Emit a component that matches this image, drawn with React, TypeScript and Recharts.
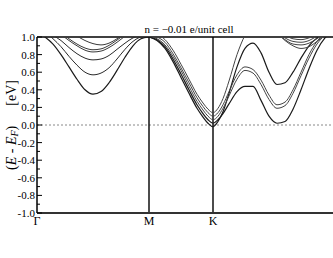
import { LineChart, Line, XAxis, YAxis, ReferenceLine } from "recharts";

// k-path positions (Γ=0, M=112, K=176, Γ=304; last Γ lies just past the frame)
const kGM = [0, 8, 16, 24, 32, 40, 48, 56, 64, 72, 80, 88, 96, 104, 112];
const kMK = [112, 120, 128, 136, 144, 152, 160, 166, 171, 176];
const kKG = [176, 181, 186, 192, 200, 208, 216, 224, 232, 240, 248, 256, 264, 272, 280, 288, 296, 304];

const kTicks = [0, 112, 176];
const kLabels = ["Γ", "M", "K"];
const eTicks = [-1, -0.9, -0.8, -0.7, -0.6, -0.5, -0.4, -0.3, -0.2, -0.1, 0, 0.1, 0.2, 0.3, 0.4, 0.5, 0.6, 0.7, 0.8, 0.9, 1];

// Γ - M
const gmA = [1.06, 1.0, 0.92, 0.8, 0.66, 0.52, 0.4, 0.35, 0.38, 0.48, 0.62, 0.77, 0.9, 0.98, 1.0];
const gmB = [1.12, 1.06, 0.98, 0.89, 0.78, 0.68, 0.6, 0.57, 0.59, 0.65, 0.75, 0.86, 0.95, 1.0, 1.01];
const gmC = [1.14, 1.09, 1.02, 0.96, 0.88, 0.81, 0.76, 0.74, 0.75, 0.79, 0.86, 0.93, 0.99, 1.02, 1.03];
const gmD = [1.25, 1.18, 1.11, 1.03, 0.96, 0.9, 0.85, 0.83, 0.84, 0.88, 0.94, 1.01, 1.08, 1.13, 1.16];
const gmE = [1.27, 1.2, 1.13, 1.05, 0.98, 0.92, 0.875, 0.855, 0.865, 0.905, 0.965, 1.03, 1.1, 1.15, 1.18];
const gmF = [1.35, 1.28, 1.2, 1.12, 1.06, 1.01, 0.96, 0.925, 0.91, 0.93, 0.98, 1.04, 1.1, 1.16, 1.2];

// M - K
const mk1 = [1.0, 0.96, 0.87, 0.72, 0.54, 0.36, 0.19, 0.09, 0.02, -0.02];
const mk2 = [1.0, 0.97, 0.89, 0.75, 0.58, 0.4, 0.23, 0.13, 0.06, 0.02];
const mk3 = [1.01, 0.98, 0.91, 0.78, 0.62, 0.44, 0.27, 0.17, 0.1, 0.06];
const mk4 = [1.03, 1.0, 0.94, 0.81, 0.65, 0.48, 0.31, 0.21, 0.14, 0.1];
const mk5 = [1.06, 1.03, 0.97, 0.85, 0.69, 0.52, 0.35, 0.25, 0.18, 0.14];

// K - Γ
const kgP = [-0.02, 0.04, 0.15, 0.36, 0.66, 0.87, 0.93, 0.82, 0.6, 0.46, 0.48, 0.6, 0.76, 0.9, 0.99, 1.05, 1.1, 1.12];
const kgR = [0.02, 0.06, 0.13, 0.24, 0.38, 0.44, 0.44, 0.28, 0.1, 0.02, 0.04, 0.18, 0.4, 0.64, 0.85, 0.99, 1.06, 1.1];
const kgQ1 = [0.06, 0.1, 0.19, 0.33, 0.52, 0.62, 0.59, 0.46, 0.29, 0.19, 0.22, 0.36, 0.56, 0.76, 0.92, 1.02, 1.08, 1.1];
const kgQ2 = [0.1, 0.14, 0.23, 0.38, 0.57, 0.66, 0.63, 0.51, 0.34, 0.23, 0.26, 0.4, 0.6, 0.8, 0.95, 1.04, 1.1, 1.12];
const kgS1 = [0.14, 0.19, 0.3, 0.5, 0.8, 1.02, 1.15, 1.18, 1.15, 1.05, 0.96, 0.9, 0.87, 0.89, 0.95, 1.02, 1.08, 1.1];
const kgS2 = [1.4, 1.4, 1.4, 1.38, 1.35, 1.3, 1.25, 1.2, 1.12, 1.04, 0.97, 0.92, 0.91, 0.93, 0.98, 1.04, 1.1, 1.12];
const kgS3 = [1.45, 1.45, 1.45, 1.42, 1.38, 1.33, 1.27, 1.21, 1.14, 1.06, 0.99, 0.95, 0.94, 0.96, 1.01, 1.06, 1.12, 1.14];
const kgS4 = [1.5, 1.5, 1.5, 1.46, 1.42, 1.36, 1.3, 1.23, 1.16, 1.08, 1.02, 0.98, 0.97, 0.99, 1.03, 1.08, 1.14, 1.16];

const pts = (k: number[], e: number[]) => k.map((x, i) => ({ k: x, e: e[i] }));
// join an M-K branch with its K-Γ continuation so the band is smooth through K
const join = (a: number[], b: number[]) => pts(kMK, a).concat(pts(kKG, b).slice(1));

const bands = [
  { d: pts(kGM, gmA), c: "#1a1a1a", w: 1.2 },
  { d: pts(kGM, gmB), c: "#2a2a2a", w: 1 },
  { d: pts(kGM, gmC), c: "#2a2a2a", w: 1 },
  { d: pts(kGM, gmD), c: "#3a3a3a", w: 1 },
  { d: pts(kGM, gmE), c: "#3a3a3a", w: 1 },
  { d: pts(kGM, gmF), c: "#3a3a3a", w: 1 },
  { d: join(mk1, kgP), c: "#1a1a1a", w: 1.2 },
  { d: join(mk2, kgR), c: "#1a1a1a", w: 1.2 },
  { d: join(mk3, kgQ1), c: "#444", w: 1 },
  { d: join(mk4, kgQ2), c: "#444", w: 1 },
  { d: join(mk5, kgS1), c: "#444", w: 1 },
  { d: pts(kKG, kgS2), c: "#444", w: 1 },
  { d: pts(kKG, kgS3), c: "#444", w: 1 },
  { d: pts(kKG, kgS4), c: "#444", w: 1 },
];

const font = "'Liberation Serif', serif";

function YTick(props: any) {
  const { x, y, payload } = props;
  const v = payload.value as number;
  const major = Math.abs(Math.round(v * 10)) % 2 === 0;
  return (
    <g>
      <line x1={x} x2={x + (major ? 5 : 3)} y1={y} y2={y} stroke="#000" strokeWidth={1} />
      {major && (
        <text x={x - 2} y={y} dy={4} textAnchor="end" fontSize={11} fontFamily={font} fill="#000">
          {v.toFixed(1)}
        </text>
      )}
    </g>
  );
}

function XTick(props: any) {
  const { x, y, payload } = props;
  const i = kTicks.indexOf(payload.value);
  return (
    <text x={x} y={y} dy={12} textAnchor="middle" fontSize={12} fontFamily={font} fill="#000">
      {kLabels[i]}
    </text>
  );
}

function YLabel(props: any) {
  const { viewBox } = props;
  const cx = viewBox.x + 13;
  const cy = viewBox.y + viewBox.height / 2;
  return (
    <text
      x={cx}
      y={cy}
      transform={`rotate(-90 ${cx} ${cy})`}
      textAnchor="middle"
      dominantBaseline="middle"
      fontSize={14}
      fontFamily={font}
      fill="#000"
    >
      <tspan>(</tspan>
      <tspan fontStyle="italic">E</tspan>
      <tspan>{"\u00a0-\u00a0"}</tspan>
      <tspan fontStyle="italic">E</tspan>
      <tspan fontStyle="italic" fontSize={10} dy={3}>F</tspan>
      <tspan dy={-3}>)</tspan>
      <tspan dx={20}>[eV]</tspan>
    </text>
  );
}

export default function App() {
  return (
    <div style={{ position: "absolute", left: 0, top: 0, width: 333, height: 258, overflow: "hidden", background: "#fff" }}>
      <LineChart width={345} height={258} margin={{ top: 37, right: 4, bottom: 0, left: 0 }}>
        <XAxis
          dataKey="k"
          type="number"
          domain={[0, 304]}
          ticks={kTicks}
          interval={0}
          tick={<XTick />}
          tickLine={false}
          tickSize={0}
          tickMargin={0}
          height={45}
          allowDataOverflow
          axisLine={{ stroke: "#333", strokeWidth: 2 }}
        />
        <YAxis
          type="number"
          domain={[-1, 1]}
          ticks={eTicks}
          interval={0}
          tick={<YTick />}
          tickLine={false}
          tickSize={0}
          tickMargin={0}
          width={37}
          allowDataOverflow
          axisLine={{ stroke: "#000", strokeWidth: 1.5 }}
          label={{ content: (p: any) => <YLabel {...p} /> }}
        />
        <ReferenceLine y={0} stroke="#888" strokeDasharray="2 2" strokeWidth={1} />
        <ReferenceLine x={112} stroke="#111" strokeWidth={1.5} />
        <ReferenceLine x={176} stroke="#111" strokeWidth={1.5} />
        <ReferenceLine
          y={1}
          stroke="#000"
          strokeWidth={1.5}
          label={{ value: "n = −0.01 e/unit cell", position: "top", fontSize: 11, fontFamily: font, fill: "#000", offset: 4 }}
        />
        {bands.map((b, i) => (
          <Line
            key={i}
            data={b.d}
            dataKey="e"
            type="monotone"
            dot={false}
            stroke={b.c}
            strokeWidth={b.w}
            isAnimationActive={false}
          />
        ))}
      </LineChart>
    </div>
  );
}
